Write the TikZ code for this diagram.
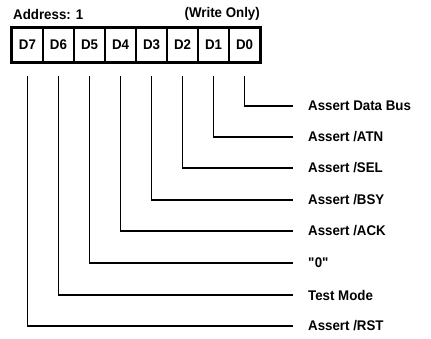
\documentclass[tikz,border=0pt]{standalone}
\usepackage{fontspec}
\setmainfont[FakeStretch=0.95]{Liberation Sans}
\newcommand{\straightq}{\XeTeXglyph\XeTeXcharglyph"22\relax}
\begin{document}
\begin{tikzpicture}[x=1pt,y=-1pt,
  every node/.style={font=\fontsize{14}{16}\selectfont\bfseries},
  cell/.style={draw, line width=1.1pt, minimum width=31pt, minimum height=34pt, inner sep=0pt},
  lab/.style={anchor=west, inner sep=0pt},
  wire/.style={line width=1.3pt, shorten <=13pt, shorten >=15pt}]
\useasboundingbox (0,0) rectangle (431,339);
\node[lab] (addr) at (13,14) {Address: 1};
\node[anchor=east, inner sep=0pt] (wo) at (260,14) {(Write Only)};
\foreach \i in {0,...,7} {
  \node[cell] (c\i) at ({27.5+31*(7-\i)},45) {D\i};
}
\draw[line width=2pt] (c7.north west) rectangle (c0.south east);
\node[lab] (l0) at (308,106) {Assert Data Bus};
\node[lab] (l1) at (308,137) {Assert /ATN};
\node[lab] (l2) at (308,168) {Assert /SEL};
\node[lab] (l3) at (308,200) {Assert /BSY};
\node[lab] (l4) at (308,231) {Assert /ACK};
\node[lab] (l5) at (308,263) {\straightq 0\straightq};
\node[lab] (l6) at (308,295) {Test Mode};
\node[lab] (l7) at (308,326) {Assert /RST};
\foreach \i in {0,...,7} {
  \draw[wire] (c\i.south) |- (l\i.west);
}
\end{tikzpicture}
\end{document}
